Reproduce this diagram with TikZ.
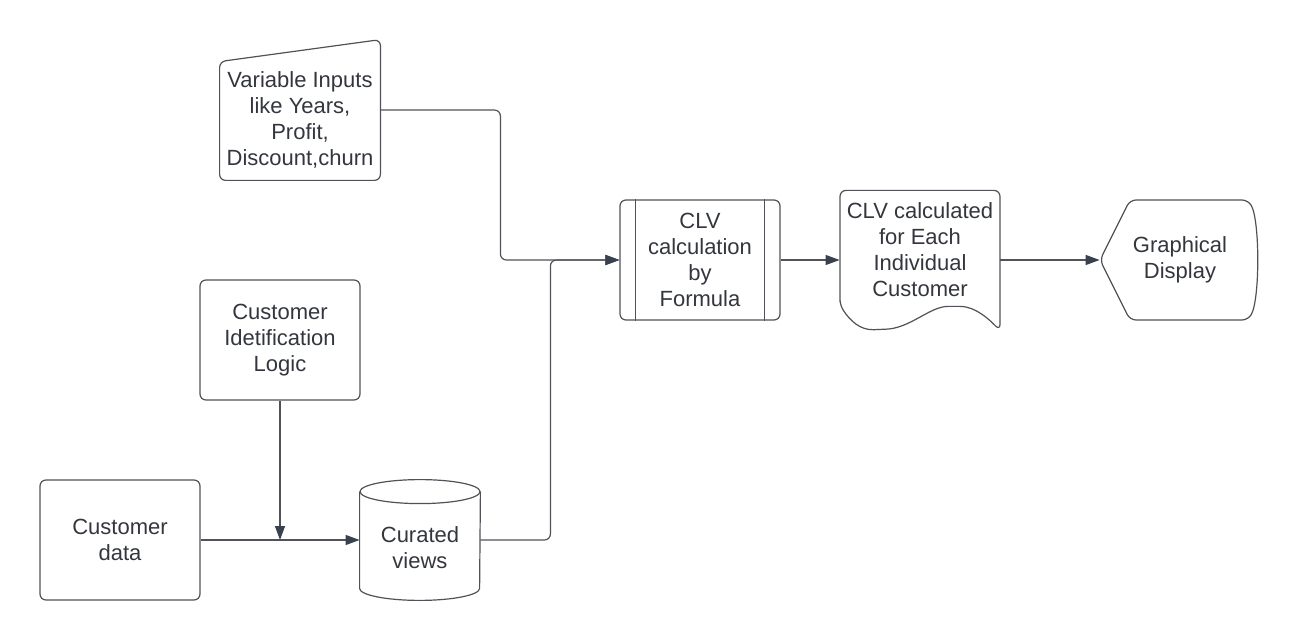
\documentclass[tikz,border=0pt]{standalone}
\usepackage{fontspec}
\setmainfont{Liberation Sans}
\usepackage{xcolor}
\usetikzlibrary{arrows.meta, calc, positioning}
\definecolor{darkslate}{RGB}{51,54,61}
\definecolor{edgegrey}{RGB}{80,82,88}
\definecolor{tipnavy}{RGB}{58,65,78}
\tikzset{boxnode/.style={rectangle, rounded corners=3pt, draw=edgegrey, line width=0.6pt, minimum width=80pt, minimum height=60pt, align=center, text=darkslate, font=\fontsize{11pt}{13pt}\selectfont},
textnode/.style={rectangle, minimum width=80pt, minimum height=60pt, inner sep=0pt, align=center, text=darkslate, font=\fontsize{11pt}{13pt}\selectfont},
outline/.style={draw=edgegrey, line width=0.6pt, rounded corners=3pt},
flowarrow/.style={draw=edgegrey, line width=0.6pt, rounded corners=3pt, -{Triangle[length=7pt, width=5pt, color=tipnavy]}}}

\begin{document}
\begin{tikzpicture}
                \useasboundingbox (0pt,0pt) rectangle (650pt,-320pt);

                % Inputs
                \node[textnode] (varin) at (150pt,-60pt) {Variable Inputs\\like Years,\\Profit,\\Discount,churn};
                \draw[outline] (varin.south west) -- ([yshift=-1pt]varin.north west) -- ([yshift=10pt]varin.north east) -- (varin.south east) -- cycle;

                \node[boxnode] (ident) at (140pt,-170pt) {Customer\\Idetification\\Logic};
                \node[boxnode] (custdata) at (60pt,-270pt) {Customer\\data};

                % Curated views cylinder
                \node[textnode, minimum width=60pt, minimum height=52pt] (curated) at (210pt,-274pt) {Curated\\views};
                \draw[edgegrey, line width=0.6pt] ([yshift=2pt]curated.north) ellipse [x radius=30pt, y radius=6pt];
                \draw[edgegrey, line width=0.6pt] ([yshift=2pt]curated.north west) -- ([yshift=6pt]curated.south west) arc[start angle=180, end angle=360, x radius=30pt, y radius=6pt] -- ([yshift=2pt]curated.north east);

                % Process
                \node[boxnode] (clvcalc) at (350pt,-130pt) {CLV\\calculation\\by\\Formula};
                \draw[edgegrey, line width=0.6pt] ([xshift=8pt]clvcalc.north west) -- ([xshift=8pt]clvcalc.south west) ([xshift=-8pt]clvcalc.north east) -- ([xshift=-8pt]clvcalc.south east);

                % Document
                \node[textnode] (clvdoc) at (460pt,-125pt) {CLV calculated\\for Each\\Individual\\Customer};
                \draw[outline, shift={(clvdoc.south)}] (-40pt,2.5pt) -- (-40pt,60pt) -- (40pt,60pt) -- (40pt,-10pt) .. controls (35pt,-5pt) and (28pt,2pt) .. (17pt,2pt) .. controls (5pt,2pt) and (-5pt,-9pt) .. (-20pt,-9.5pt) .. controls (-30pt,-10pt) and (-35pt,-5pt) .. cycle;

                % Display
                \node[textnode] (disp) at (590pt,-130pt) {Graphical\\Display};
                \draw[outline, shift={(disp.center)}] (-40pt,0pt) -- (-25pt,30pt) -- (34pt,30pt) .. controls (40pt,20pt) and (40pt,-20pt) .. (34pt,-30pt) -- (-25pt,-30pt) -- cycle;

                % Connectors
                \coordinate (join) at (ident.south |- custdata.east);
                \draw[flowarrow] (custdata.east) -- (custdata.east -| curated.west);
                \draw[flowarrow] (ident.south) -- (join);
                \draw[flowarrow] ([yshift=5pt]varin.east) -- ++(60pt,0pt) |- (clvcalc.west);
                \draw[flowarrow] (curated.east |- custdata.east) -- ++(35pt,0pt) |- (clvcalc.west);
                \draw[flowarrow] (clvcalc.east) -- (clvdoc.west |- clvcalc.east);
                \draw[flowarrow] (clvdoc.east |- clvcalc.east) -- (disp.west);
            \end{tikzpicture}
\end{document}
